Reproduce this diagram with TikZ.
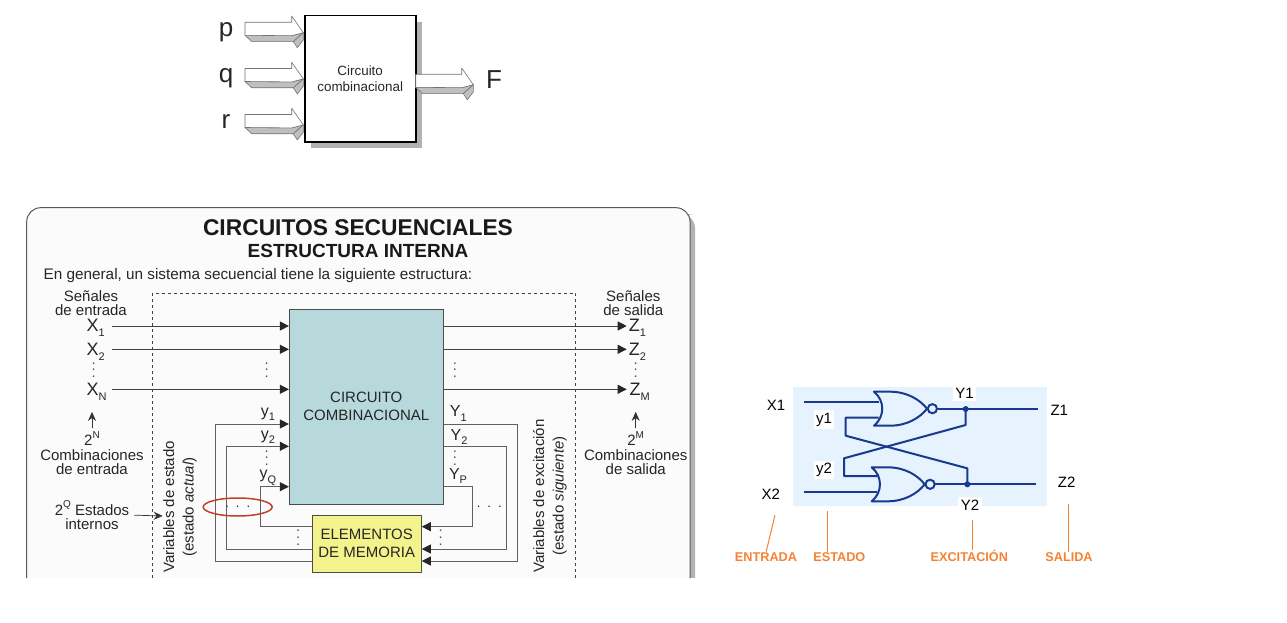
\documentclass[tikz,border=0pt]{standalone}
\usepackage{fontspec}
\setmainfont{Liberation Sans}
\usetikzlibrary{arrows.meta}
\definecolor{ccfill}{HTML}{B8D9DC}
\definecolor{memfill}{HTML}{F3F38C}
\definecolor{gatewire}{HTML}{173A8F}
\definecolor{gatebg}{HTML}{E6F2FD}
\definecolor{tagorange}{HTML}{F58233}
\definecolor{ringred}{HTML}{BE4128}
\tikzset{
	every node/.style={text=black!85},
	txt/.style={inner sep=0pt, align=center, font=\fontsize{#1}{#1}\selectfont},
	txt/.default=15,
	lines/.style={inner sep=0pt, align=center, font=\fontsize{15}{14.2}\selectfont},
	sig/.style={draw=black!75, line width=0.9pt, -{Triangle[length=9pt,width=9pt,color=black!85]}},
	fb/.style={draw=black!62, line width=1pt, -{Triangle[length=9pt,width=9pt,color=black!85]}},
	thinarrow/.style={draw=black!80, line width=0.7pt, -{Stealth[length=9pt,width=8pt]}},
	wire/.style={draw=gatewire, line width=2pt},
	tag/.style={inner sep=0pt, text=tagorange, font=\fontsize{12.7}{12.7}\selectfont\bfseries},
	tagline/.style={draw=tagorange, line width=1pt},
	gatelabel/.style={inner sep=0pt, text=black, font=\fontsize{15}{15}\selectfont},
	whitelabel/.style={fill=white, text=black, inner sep=2.5pt, font=\fontsize{15}{15}\selectfont}
}
\newcommand{\subs}[1]{\raisebox{-0.28em}{\fontsize{11}{11}\selectfont #1}}
\newcommand{\sups}[1]{\raisebox{0.5em}{\fontsize{10}{10}\selectfont #1}}
% #1 name, #2 x, #3 y
\newcommand{\dotsUp}[3]{
	\node[rotate=90, inner sep=0pt, font=\fontsize{13}{13}\selectfont] (#1) at (#2,#3) {.\hspace{3.1pt}.\hspace{3.1pt}.};
}
\newcommand{\dotsSide}[3]{
	\node[inner sep=0pt, font=\fontsize{13}{13}\selectfont] (#1) at (#2,#3) {.\hspace{7pt}.\hspace{7pt}.};
}
% #1 x start, #2 y top, #3 body length
\newcommand{\blockArrow}[3]{
	\begin{scope}[shift={(#1+#3,#2)}, draw=black!55, line width=0.6pt, line join=round]
		\filldraw[fill=black!25] (-#3,13) -- (-#3+6.7,19.3) -- (1.6,19.3) -- (11.6,10.4) -- (0,13.4) -- cycle;
		\filldraw[fill=black!25] (1.6,19.3) -- (11.6,10.4) -- (11.6,17.7) -- (5.6,25.4) -- cycle;
		\filldraw[fill=white] (-#3,0) -- (0,0) -- (0,-6.3) -- (11.6,10.4) -- (0,13.4) -- (-#3,13) -- cycle;
	\end{scope}
}
% #1 x back, #2 y top
\newcommand{\norGate}[2]{
	\begin{scope}[shift={(#1,#2)}]
		\draw[wire, line join=round] (0,0) .. controls (11,9) and (11,25) .. (0,34) -- (16,34) .. controls (33,34) and (46,26) .. (53,17) .. controls (46,8) and (33,0) .. (16,0) -- cycle;
		\draw[wire] (58.4,17) circle [radius=4.6];
	\end{scope}
}

\begin{document}
\begin{tikzpicture}[x=1pt,y=-1pt]
	\useasboundingbox (0,0) rectangle (1287,623);
	\fill[white] (0,0) rectangle (1287,623);

	% top block
	\fill[black!30] (311,22) rectangle (421.7,148);
	\node[draw=black, line width=1.6pt, fill=white, minimum width=111pt, minimum height=126pt, inner sep=0pt, align=center, font=\fontsize{13.4}{16}\selectfont] (block) at (360.2,78.7) {Circuito\\combinacional};
	\blockArrow{245}{22.3}{46.7}
	\blockArrow{245}{68.5}{46.7}
	\blockArrow{245}{114.5}{46.7}
	\blockArrow{415.7}{74.3}{46}
	\node[inner sep=0pt, anchor=base, font=\fontsize{26}{26}\selectfont] (inp) at (226,36.7) {p};
	\node[inner sep=0pt, anchor=base, font=\fontsize{26}{26}\selectfont] (inq) at (226,82.3) {q};
	\node[inner sep=0pt, anchor=base, font=\fontsize{26}{26}\selectfont] (inr) at (226,128.3) {r};
	\node[inner sep=0pt, anchor=base, font=\fontsize{26}{26}\selectfont] (outF) at (494,89) {F};

	% panel
	\fill[black!30, rounded corners=14pt] (680,214) -- (695,214) -- (695,600) -- (680,600) -- cycle;
	\fill[black!1.5, rounded corners=14pt] (26.7,600) -- (26.7,207.7) -- (690,207.7) -- (690,600) -- cycle;
	\fill[white] (0,578) rectangle (720,623);
	\draw[black!65, line width=1pt, rounded corners=14pt] (26.7,578) -- (26.7,207.7) -- (690,207.7) -- (690,578);
	\node[inner sep=0pt, text=black!90, font=\fontsize{22.8}{22.8}\selectfont\bfseries] (title) at (358,227.5) {CIRCUITOS SECUENCIALES};
	\node[inner sep=0pt, text=black!90, font=\fontsize{19}{19}\selectfont\bfseries] (subtitle) at (358,250.5) {ESTRUCTURA INTERNA};
	\node[inner sep=0pt, font=\fontsize{15.3}{15.3}\selectfont] (intro) at (258,276) {En general, un sistema secuencial tiene la siguiente estructura:};
	\draw[black!75, line width=0.6pt, dashed] (152.3,578) -- (152.3,293.3) -- (575.7,293.3) -- (575.7,578);

	% blocks
	\node[draw=black!70, line width=0.8pt, fill=ccfill, minimum width=154pt, minimum height=195pt, lines, font=\fontsize{15}{18}\selectfont] (cc) at (366.3,406.8) {CIRCUITO\\COMBINACIONAL};
	\node[draw=black!70, line width=0.8pt, fill=memfill, minimum width=109.3pt, minimum height=57pt, lines, font=\fontsize{15}{18}\selectfont] (mem) at (366.7,543.8) {ELEMENTOS\\DE MEMORIA};

	% inputs and outputs
	\node[lines] (inTitle) at (91,303.5) {Señales\\de entrada};
	\node[lines] (outTitle) at (633.3,303.5) {Señales\\de salida};
	\node[txt=18] (X1) at (95.8,328) {X\subs{1}};
	\node[txt=18] (X2) at (95.8,352) {X\subs{2}};
	\node[txt=18] (XN) at (96.7,392) {X\subs{N}};
	\node[txt=18] (Z1) at (637.5,328) {Z\subs{1}};
	\node[txt=18] (Z2) at (637.5,352) {Z\subs{2}};
	\node[txt=18] (ZM) at (639.8,392) {Z\subs{M}};
	\foreach \n/\yy in {1/326,2/349.3,3/389.3} {
		\coordinate (inS\n) at (111.7,\yy);
		\coordinate (outS\n) at (626.7,\yy);
		\draw[sig] (inS\n) -- (inS\n -| cc.west);
		\draw[sig] (outS\n -| cc.east) -- (outS\n);
	}
	\dotsUp{dotA}{93.7}{370}
	\dotsUp{dotB}{266.7}{370}
	\dotsUp{dotC}{455}{370}
	\dotsUp{dotD}{635.7}{370}

	% feedback
	\foreach \n/\x/\ya/\yb in {1/215/424/561,2/226.7/446.3/549,3/260.7/486.7/526.7} {
		\coordinate (backL\n) at (\x,\ya);
		\coordinate (downL\n) at (\x,\yb);
		\draw[fb] (downL\n -| mem.west) -- (downL\n) -- (backL\n) -- (backL\n -| cc.west);
	}
	\foreach \n/\x/\ya/\yb in {1/517.7/424/561,2/506.3/446.3/549,3/472.3/486.7/526.7} {
		\coordinate (backR\n) at (\x,\ya);
		\coordinate (downR\n) at (\x,\yb);
		\draw[fb] (backR\n -| cc.east) -- (backR\n) -- (downR\n) -- (downR\n -| mem.east);
	}
	\node[txt=16] (y1) at (268,414.5) {y\subs{1}};
	\node[txt=16] (y2) at (268,437.5) {y\subs{2}};
	\node[txt=16] (yQ) at (268,478) {y\subs{Q}};
	\node[txt=16] (Y1) at (458.3,413.5) {Y\subs{1}};
	\node[txt=16] (Y2) at (459,437) {Y\subs{2}};
	\node[txt=16] (YP) at (458,476) {Y\subs{P}};
	\dotsUp{dotE}{266.7}{458}
	\dotsUp{dotF}{455}{458}
	\dotsUp{dotG}{298.3}{537.7}
	\dotsUp{dotH}{440.7}{537.7}
	\dotsSide{dotI}{237.7}{507}
	\dotsSide{dotJ}{489.3}{506.7}
	\draw[draw=ringred, line width=1.5pt] (237.7,507) ellipse [x radius=34.5, y radius=9];

	% side notes
	\node[lines] (combIn) at (92,453) {2\sups{N}\\Combinaciones\\de entrada};
	\node[lines] (combOut) at (635.7,453) {2\sups{M}\\Combinaciones\\de salida};
	\draw[thinarrow, shorten <=3pt, shorten >=11pt] (combIn.north) -- (combIn.north |- XN.south);
	\draw[thinarrow, shorten <=3pt, shorten >=11pt] (combOut.north) -- (combOut.north |- ZM.south);
	\node[lines] (stIn) at (92,515) {2\sups{Q} Estados\\internos};
	\coordinate (stTip) at (162.7,516);
	\draw[thinarrow, shorten <=5pt] (stIn.east) -- (stTip);
	\node[lines, rotate=90, font=\fontsize{15}{19.5}\selectfont] (varIn) at (180,507) {Variables de estado\\(estado \textit{actual})};
	\node[lines, rotate=90, font=\fontsize{15}{19.5}\selectfont] (varOut) at (550,496) {Variables de excitación\\(estado \textit{siguiente})};

	% latch
	\fill[gatebg] (792.7,386.7) rectangle (1046.7,506);
	\norGate{874}{391.7}
	\norGate{871.7}{467.3}
	\coordinate (xa) at (804,401.7);
	\coordinate (xb) at (804,492.3);
	\coordinate (qa) at (965.7,409);
	\coordinate (qb) at (967.3,484.3);
	\draw[wire] (xa) -- (878.5,401.7);
	\draw[wire] (xb) -- (877,492.3);
	\draw[wire] (937.6,409) -- (qa) -- (1038.3,409);
	\draw[wire] (933.6,484.3) -- (qb) -- (1036,484.3);
	\draw[wire, line join=round] (qa) -- (965.7,425) -- (844,458.3) -- (844,476) -- (877,476);
	\draw[wire, line join=round] (qb) -- (967.3,468.3) -- (845.7,435.7) -- (845.7,417.7) -- (878.5,417.7);
	\fill[gatewire] (qa) circle [radius=3];
	\fill[gatewire] (qb) circle [radius=3];
	\node[whitelabel] (ly1) at (824,419.5) {y1};
	\node[whitelabel] (ly2) at (824,470) {y2};
	\node[whitelabel] (lY1) at (964.5,393.5) {Y1};
	\node[whitelabel] (lY2) at (970,505) {Y2};
	\node[gatelabel] (lX1) at (776,405) {X1};
	\node[gatelabel] (lX2) at (770.7,494) {X2};
	\node[gatelabel] (lZ1) at (1059.3,410) {Z1};
	\node[gatelabel] (lZ2) at (1066.7,482.7) {Z2};

	% orange tags
	\node[tag, anchor=base] (tEnt) at (766,561.5) {ENTRADA};
	\node[tag, anchor=base] (tEst) at (839.3,561.5) {ESTADO};
	\node[tag, anchor=base] (tExc) at (969.3,561.5) {EXCITACIÓN};
	\node[tag, anchor=base] (tSal) at (1069,561.5) {SALIDA};
	\coordinate (pEnt) at (775,515);
	\coordinate (pEst) at (827.3,511);
	\coordinate (pExc) at (972.3,520);
	\coordinate (pSal) at (1068.3,504);
	\draw[tagline, shorten >=1pt] (pEnt) -- (tEnt.north);
	\draw[tagline] (pEst) -- (pEst |- tEst.north);
	\draw[tagline] (pExc) -- (pExc |- tExc.north);
	\draw[tagline] (pSal) -- (pSal |- tSal.north);
\end{tikzpicture}
\end{document}
